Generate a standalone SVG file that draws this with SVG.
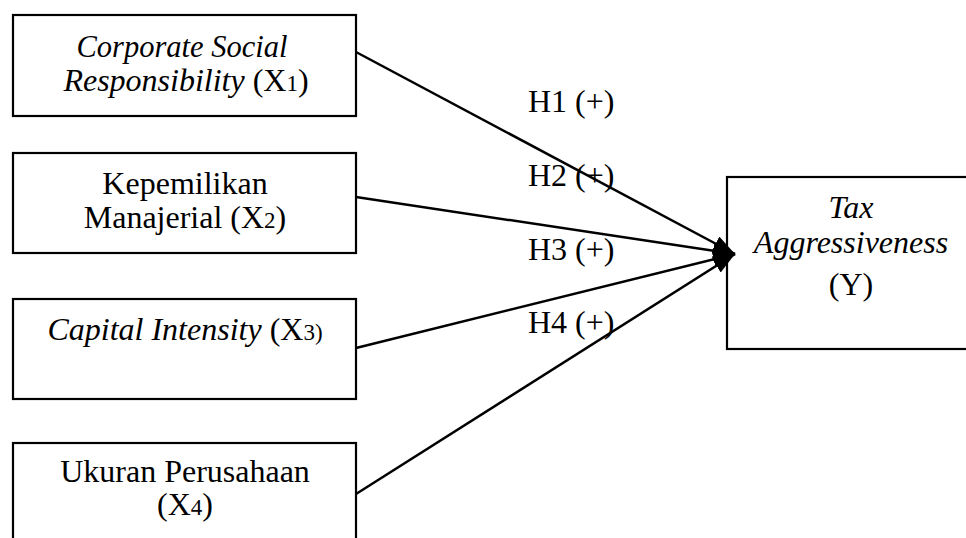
<svg xmlns="http://www.w3.org/2000/svg" width="966" height="538" viewBox="0 0 966 538">
<style>
.box{fill:#fff;stroke:#000;stroke-width:2.2}
.t{font-family:"Liberation Serif","Times New Roman",serif;font-size:32px;fill:#000;text-anchor:middle}
.l{font-family:"Liberation Serif","Times New Roman",serif;font-size:32px;fill:#000}
.i{font-style:italic}
.s{font-size:23px}
.c{stroke:#000;stroke-width:2.5;fill:none;marker-end:url(#ah)}
</style>
<defs>
<marker id="ah" markerUnits="userSpaceOnUse" markerWidth="24" markerHeight="18" refX="22" refY="8" orient="auto">
<path d="M0,0 L22,8 L0,16 z" fill="#000"/>
</marker>
</defs>
<rect width="966" height="538" fill="#fff"/>
<g id="x1">
<rect class="box" x="13" y="15" width="343" height="101"/>
<text class="t" x="182" y="57" style="font-size:30.5px"><tspan class="i">Corporate Social</tspan></text>
<text class="t" x="186" y="91"><tspan class="i">Responsibility</tspan> (X<tspan class="s">1</tspan>)</text>
</g>
<g id="x2">
<rect class="box" x="13" y="153" width="343" height="100"/>
<text class="t" x="185" y="194">Kepemilikan</text>
<text class="t" x="185" y="228">Manajerial (X<tspan class="s">2</tspan>)</text>
</g>
<g id="x3">
<rect class="box" x="13" y="299" width="343" height="100"/>
<text class="t" x="185" y="340"><tspan class="i">Capital Intensity</tspan> (X<tspan class="s">3)</tspan></text>
</g>
<g id="x4">
<rect class="box" x="13" y="443" width="343" height="110"/>
<text class="t" x="185" y="482">Ukuran Perusahaan</text>
<text class="t" x="185" y="515">(X<tspan class="s">4</tspan>)</text>
</g>
<g id="y">
<rect class="box" x="727" y="177" width="260" height="172"/>
<text class="t i" x="851" y="218">Tax</text>
<text class="t i" x="851" y="253">Aggressiveness</text>
<text class="t" x="851" y="295">(Y)</text>
</g>
<g id="connectors">
<line class="c" x1="356" y1="52" x2="735" y2="254"/>
<line class="c" x1="356" y1="197" x2="735" y2="254"/>
<line class="c" x1="356" y1="348" x2="735" y2="254"/>
<line class="c" x1="356" y1="494" x2="735" y2="254"/>
</g>
<g id="labels">
<text class="l" x="528" y="112">H1 (+)</text>
<text class="l" x="528" y="186">H2 (+)</text>
<text class="l" x="528" y="260">H3 (+)</text>
<text class="l" x="528" y="333">H4 (+)</text>
</g>
</svg>
